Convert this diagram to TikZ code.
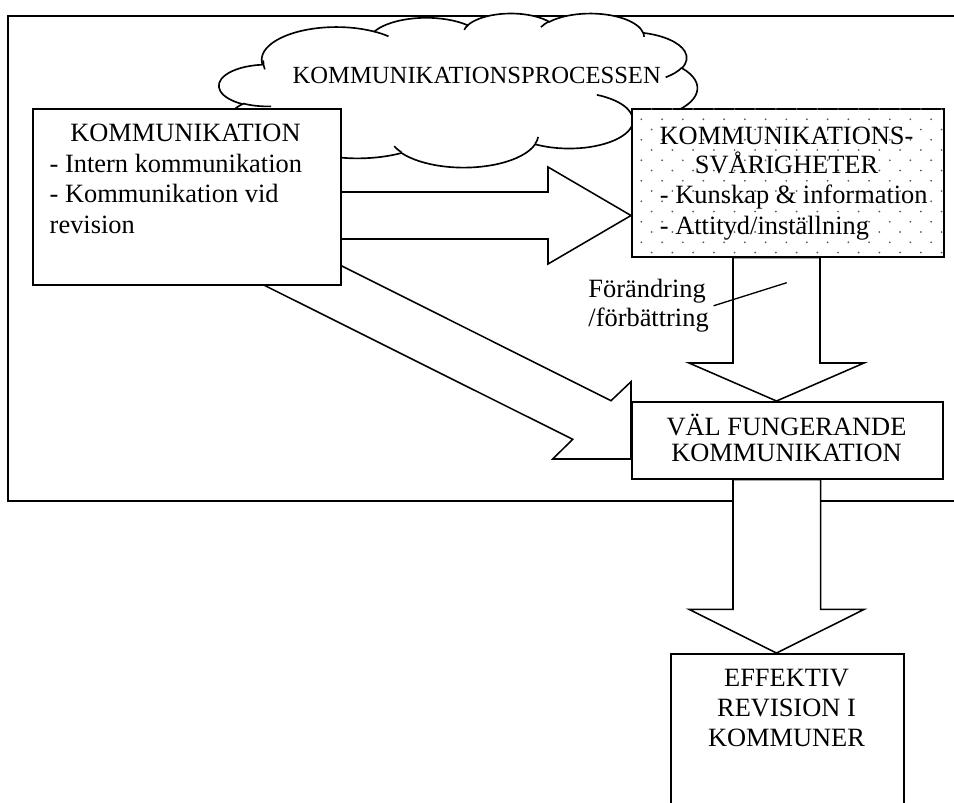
\documentclass[tikz,border=0pt]{standalone}
\usepackage{fontspec}
\setmainfont{Liberation Serif}

% one pixel of the page
\newcommand{\pxu}{0.4545pt}
% cloud outline: one unit of its 4320 grid
\newcommand{\cldx}{0.05029pt}
\newcommand{\cldy}{0.016202pt}
% one lobe of the cloud: wR, hR, start angle, swing angle
\newcommand{\cldarc}[4]{%
  \pgfmathsetmacro\cldts{atan2((#1)*sin(#3),(#2)*cos(#3))}%
  \pgfmathsetmacro\cldte{atan2((#1)*sin((#3)+(#4)),(#2)*cos((#3)+(#4)))}%
  \pgfmathsetmacro\clddt{(\cldte)-(\cldts)}%
  \pgfmathsetmacro\clddt{(\clddt)+360*((#4)>0)*((\clddt)<0)-360*((#4)<0)*((\clddt)>0)}%
  \pgfmathsetmacro\cldsa{-1*(\cldts)}%
  \pgfmathsetmacro\cldea{-1*(\cldts)-(\clddt)}%
  \pgfmathsetlengthmacro\cldrx{(#1)*\cldx}%
  \pgfmathsetlengthmacro\cldry{(#2)*\cldy}%
  \pgfpatharc{\cldsa}{\cldea}{\cldrx and \cldry}%
}

\begin{document}
\begin{tikzpicture}[x=0.4545pt, y=-0.4545pt,
	box/.style={draw, fill=white, line width=0.7pt, inner sep=0pt},
	thickbox/.style={box, line width=1.05pt},
	fatarrow/.style={draw, fill=white, line width=0.7pt, line join=miter},
	txt/.style={inner sep=0pt, font=\fontsize{12}{13.8}\selectfont}]
	\useasboundingbox (0,0) rectangle (954,802);
	\clip (0,0) rectangle (954,802);
	
	% frame round the process
	\draw[line width=0.6pt] (990,16) -- (8,16) -- (8,501) -- (990,501);
	
	% cloud
	\begin{scope}[shift={(219.2,13)}]
		\pgfsetlinewidth{0.75pt}
		\pgfsetfillcolor{white}
		\pgfpathmoveto{\pgfpoint{390*\cldx}{-1437*\cldy}}
		\cldarc{675.3}{919.0}{-190.4875}{123.7805}
		\cldarc{533.3}{726.7}{-144.1024}{89.9452}
		\cldarc{436.5}{594.5}{-145.8079}{99.7230}
		\cldarc{485.7}{659.5}{-130.9861}{117.2417}
		\cldarc{533.3}{727.3}{-78.7089}{109.0269}
		\cldarc{677.5}{922.0}{-46.2673}{130.2690}
		\cldarc{578.5}{786.7}{0.6250}{114.0333}
		\cldarc{675.2}{921.5}{22.4516}{115.1726}
		\cldarc{772.0}{1054.3}{66.2426}{75.7110}
		\cldarc{436.0}{591.8}{-274.9421}{146.7356}
		\cldarc{434.5}{594.5}{-246.8285}{152.5189}
		\pgfpathclose
		\pgfusepath{fill,stroke}
		% inner strokes
		\pgfpathmoveto{\pgfpoint{469.3*\cldx}{-2617.7*\cldy}}\cldarc{434.5}{594.5}{86.7420}{26.4295}
		\pgfpathmoveto{\pgfpoint{692.8*\cldx}{-3489.9*\cldy}}\cldarc{436.0}{591.8}{73.6105}{11.4475}
		\pgfpathmoveto{\pgfpoint{1647.8*\cldx}{-3909.0*\cldy}}\cldarc{675.2}{921.5}{137.6242}{14.0811}
		\pgfpathmoveto{\pgfpoint{2882.7*\cldx}{-3475.1*\cldy}}\cldarc{675.2}{921.5}{6.4533}{15.9984}
		\pgfpathmoveto{\pgfpoint{3412.9*\cldx}{-2295.4*\cldy}}\cldarc{578.5}{786.7}{-70.2924}{70.9174}
		\pgfpathmoveto{\pgfpoint{4179.8*\cldx}{-1535.4*\cldy}}\cldarc{533.3}{727.3}{30.3180}{27.7515}
		\pgfpathmoveto{\pgfpoint{3832.4*\cldx}{-542.6*\cldy}}\cldarc{485.7}{659.5}{-13.7443}{14.8589}
		\pgfpathmoveto{\pgfpoint{2907.8*\cldx}{-395.2*\cldy}}\cldarc{485.7}{659.5}{-149.1815}{18.1954}
		\pgfpathmoveto{\pgfpoint{2214.1*\cldx}{-472.0*\cldy}}\cldarc{436.5}{594.5}{-163.4943}{17.6864}
		\pgfpathmoveto{\pgfpoint{1400.0*\cldx}{-519.2*\cldy}}\cldarc{675.3}{919.0}{-66.7070}{12.3194}
		\pgfpathmoveto{\pgfpoint{412.7*\cldx}{-1578.9*\cldy}}\cldarc{675.3}{919.0}{163.9243}{20.9057}
		\pgfusepath{stroke}
	\end{scope}
	\node[txt, font=\fontsize{11.2}{13}\selectfont, anchor=base] (process) at (476.7,83.3) {KOMMUNIKATIONSPROCESSEN};
	
	% boxes (only their places here, they are drawn below)
	\path (32,108) coordinate (kommnw) (631,108) coordinate (svarnw)
		(631,401) coordinate (valnw) (670,653) coordinate (effnw);
	\node[thickbox, anchor=north west, minimum width=308*\pxu, minimum height=176*\pxu] (komm) at (kommnw) {};
	\node[box, anchor=north west, minimum width=312*\pxu, minimum height=148*\pxu] (svar) at (svarnw) {};
	\node[box, anchor=north west, minimum width=311*\pxu, minimum height=77*\pxu] (val) at (valnw) {};
	
	% fat arrows
	\draw[fatarrow] (komm.center |- 0,192) -- (548,192) -- (548,167) -- (svar.west |- 0,215.5)
		-- (548,264) -- (548,239) -- (komm.center |- 0,239) -- cycle;
	\draw[fatarrow] (280,235) -- (611,400.7) -- (val.west |- 0,381.7) -- (val.west |- 0,459)
		-- (552.7,459) -- (572.7,439.3) -- (201.7,254) -- cycle;
	\draw[fatarrow] (733,0 |- svar.south) -- (733,363) -- (689,363) -- (776.5,0 |- val.north)
		-- (864,363) -- (820,363) -- (820,0 |- svar.south) -- cycle;
	\draw[fatarrow] (733,0 |- val.south) -- (733,609.3) -- (689,609.3) -- (776.5,653)
		-- (864.3,609.3) -- (820.7,609.3) -- (820.7,0 |- val.south) -- cycle;
	
	% boxes on top of the arrow ends
	\node[thickbox, anchor=north west, minimum width=308*\pxu, minimum height=176*\pxu] at (kommnw) {};
	\node[box, anchor=north west, minimum width=312*\pxu, minimum height=148*\pxu] at (svarnw) {};
	\node[box, anchor=north west, minimum width=311*\pxu, minimum height=77*\pxu] at (valnw) {};
	\node[box, anchor=north west, minimum width=233*\pxu, minimum height=250*\pxu] (eff) at (effnw) {};
	
	% dotted fill
	\begin{scope}
		\clip ([shift={(1,1)}]svar.south west) rectangle ([shift={(-1,-1)}]svar.north east);
		\foreach \row in {0,...,14}
			\foreach \col in {0,...,15}
				\fill[black!65] ({631+20.7*\col+10.35*mod(\row,2)},{109+10.25*\row}) circle (0.45pt);
	\end{scope}
	
	% texts
	\node[txt, anchor=base] (kommtitle) at (185.5,141.7) {KOMMUNIKATION};
	\node[txt, anchor=north west, align=left] (kommlist) at (49.3,153.7)
		{- Intern kommunikation\\- Kommunikation vid\\revision};
	\node[txt, anchor=north, align=center, font=\fontsize{12}{12.9}\selectfont] (svartitle) at (786.5,126.8)
		{KOMMUNIKATIONS-\\SVÅRIGHETER};
	\node[txt, anchor=north west, align=left] (svarlist) at (659.5,184.7)
		{- Kunskap \& information\\- Attityd/inställning};
	\node[txt, anchor=north, align=center, font=\fontsize{12}{12.1}\selectfont] (valtext) at (786.5,413.4)
		{VÄL FUNGERANDE\\KOMMUNIKATION};
	\node[txt, anchor=north, align=center, font=\fontsize{12}{13.6}\selectfont] (efftext) at (786.5,669.2)
		{EFFEKTIV\\REVISION I\\KOMMUNER};
	\node[txt, inner sep=2pt, anchor=north west, align=left, font=\fontsize{12}{13.3}\selectfont] (forlabel) at (583.6,274.3)
		{Förändring\\/förbättring};
	
	% callout
	\coordinate (fortip) at (786.7,282.7);
	\draw[line width=0.6pt] (forlabel.east) -- (fortip);
\end{tikzpicture}
\end{document}
